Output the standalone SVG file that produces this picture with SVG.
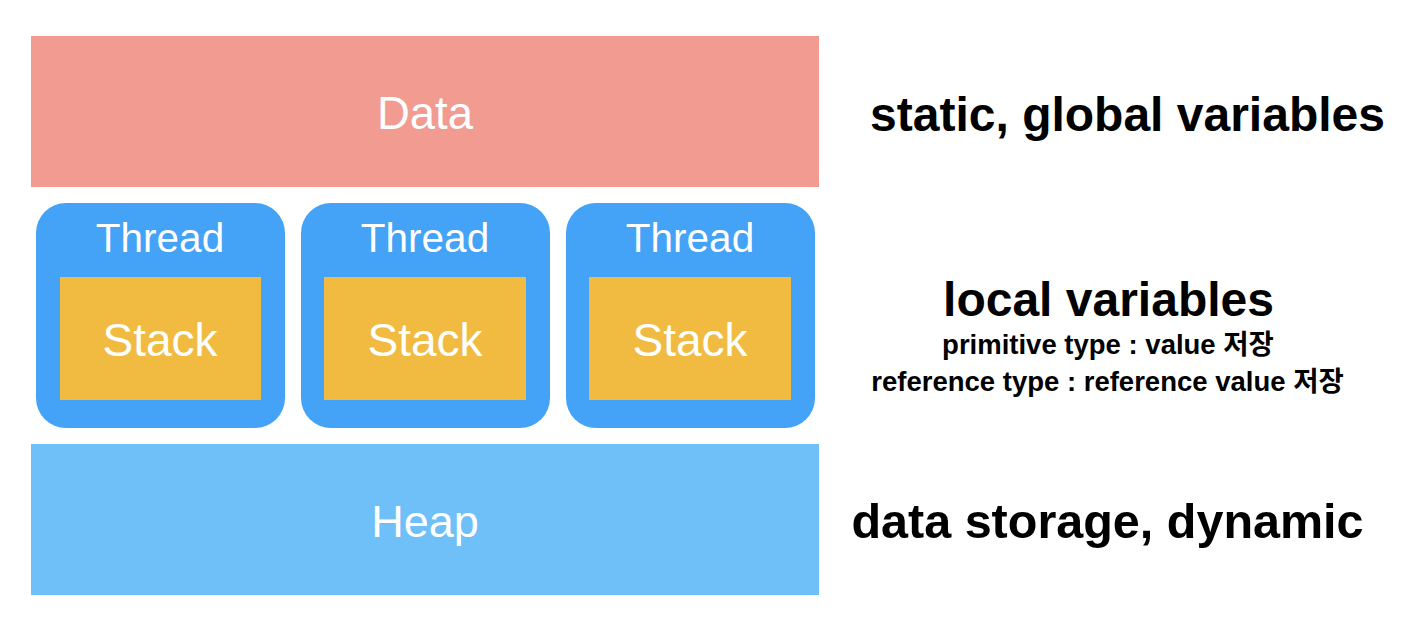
<svg xmlns="http://www.w3.org/2000/svg" width="1428" height="638" viewBox="0 0 1428 638">
<style>
.w{fill:#fff;font-family:"Liberation Sans",Arial,sans-serif;text-anchor:middle}
.b{fill:#000;font-family:"Liberation Sans","Noto Sans CJK KR",sans-serif;font-weight:bold;text-anchor:middle}
.thread{fill:#44A3F7}
.stack{fill:#F1BB42}
</style>
<rect width="1428" height="638" fill="#fff"/>
<g id="data"><rect x="31" y="36" width="788" height="151" fill="#F29B91"/><text class="w" x="425" y="129" font-size="45.5">Data</text></g>
<g id="thread1"><rect class="thread" x="36" y="203" width="249" height="225" rx="30"/><text class="w" x="160" y="252" font-size="40.5">Thread</text>
<rect class="stack" x="60" y="277" width="201" height="123"/><text class="w" x="160" y="356" font-size="46">Stack</text></g>
<g id="thread2"><rect class="thread" x="301" y="203" width="249" height="225" rx="30"/><text class="w" x="425" y="252" font-size="40.5">Thread</text>
<rect class="stack" x="324" y="277" width="202" height="123"/><text class="w" x="425" y="356" font-size="46">Stack</text></g>
<g id="thread3"><rect class="thread" x="566" y="203" width="249" height="225" rx="30"/><text class="w" x="690" y="252" font-size="40.5">Thread</text>
<rect class="stack" x="589" y="277" width="202" height="123"/><text class="w" x="690" y="356" font-size="46">Stack</text></g>
<g id="heap"><rect x="31" y="444" width="788" height="151" fill="#6FBFF8"/><text class="w" x="425" y="537" font-size="45">Heap</text></g>
<g id="labels">
<text class="b" x="1127.5" y="131" font-size="48">static, global variables</text>
<text class="b" x="1108.5" y="316" font-size="48">local variables</text>
<text class="b" x="1108" y="354" font-size="27.5">primitive type : value 저장</text>
<text class="b" x="1107.5" y="391" font-size="27.5">reference type : reference value 저장</text>
<text class="b" x="1107.5" y="538" font-size="48.5">data storage, dynamic</text>
</g>
<g id="connectors"/>
</svg>
